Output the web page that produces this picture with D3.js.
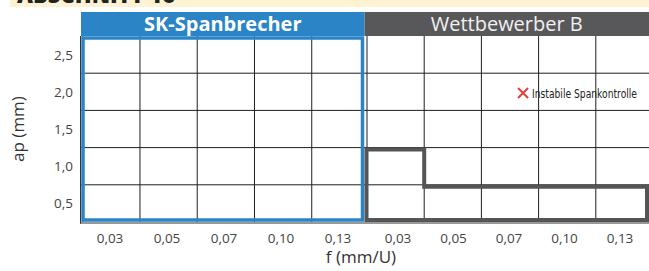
<!DOCTYPE html>
<html><head><meta charset="utf-8">
<script src="https://cdn.jsdelivr.net/npm/d3@7"></script>
<style>html,body{margin:0;padding:0;background:#fff;}svg{display:block;}</style>
</head><body>
<svg id="chart" width="649" height="271"></svg>
<script>
// ---- data ----
const fCategories = ["0,03", "0,05", "0,07", "0,10", "0,13"];
const apLevels = [0.5, 1.0, 1.5, 2.0, 2.5];
const apLabels = ["0,5", "1,0", "1,5", "2,0", "2,5"];
const panelNames = ["SK-Spanbrecher", "Wettbewerber B"];
const stableApSK = [2.5, 2.5, 2.5, 2.5, 2.5];
const stableApB = [1.0, 0.5, 0.5, 0.5, 0.5];
const legendLabel = "Instabile Spankontrolle";
const xTitle = "f (mm/U)";
const yTitle = "ap (mm)";
const bannerTitle = "ABSCHNITT 16";

// ---- layout ----
const W = 649, H = 271;
const plotTop = 36, plotBottom = 222;
const panels = [
  {name: panelNames[0], x0: 81, x1: 364.5, grid: [82.7, 369], labels: [110, 338], stable: stableApSK,
   fill: "#2b84c6", stroke: "#2b84c6", weight: 700, sw: 3.5},
  {name: panelNames[1], x0: 364.5, x1: 649, grid: [367, 653], labels: [398, 620], stable: stableApB,
   fill: "#58585a", stroke: "#555555", weight: 400, sw: 4}
];
const font = "'Open Sans', 'Noto Sans', sans-serif";
const svg = d3.select("#chart");

const y = d3.scaleBand().domain(apLevels).range([plotBottom, plotTop]);

// banner
svg.append("rect").attr("x", 10).attr("y", 0).attr("width", W - 10).attr("height", 7).attr("fill", "#fdf3d3");
svg.append("text").attr("x", 17).attr("y", 2.5).attr("font-family", font).attr("font-weight", 800)
  .attr("font-size", 22).attr("fill", "#222").text(bannerTitle);

// grid: horizontal lines
const gGrid = svg.append("g");
y.domain().forEach((d, i) => {
  if (i === apLevels.length - 1) return;
  const yy = y(d);
  gGrid.append("line").attr("x1", 81).attr("x2", W).attr("y1", yy).attr("y2", yy)
    .attr("stroke", "#1e1e1e").attr("stroke-width", 1);
});

panels.forEach(p => {
  p.x = d3.scaleBand().domain(fCategories).range(p.grid);
  p.lx = d3.scalePoint().domain(fCategories).range(p.labels);
  fCategories.slice(1).forEach(c => {
    const xx = p.x(c);
    gGrid.append("line").attr("x1", xx).attr("x2", xx).attr("y1", plotTop).attr("y2", plotBottom)
      .attr("stroke", "#1e1e1e").attr("stroke-width", 1);
  });
  const e = p.x(fCategories[0]);
  gGrid.append("line").attr("x1", e).attr("x2", e).attr("y1", plotTop).attr("y2", plotBottom)
    .attr("stroke", "#1e1e1e").attr("stroke-width", 1);
});

// axis frame
svg.append("line").attr("x1", 80.5).attr("x2", 80.5).attr("y1", plotTop).attr("y2", 223.5).attr("stroke", "#333").attr("stroke-width", 1);
svg.append("line").attr("x1", 80).attr("x2", W).attr("y1", 223).attr("y2", 223).attr("stroke", "#333").attr("stroke-width", 1);

// stable regions
const ins = 2;
panels.forEach(p => {
  const pts = [];
  const xl = p.x0 + ins, xr = p.x1 - ins, yb = plotBottom - ins;
  pts.push([xl, yb]);
  p.stable.forEach((ap, i) => {
    const yt = y(ap) + ins;
    const xa = i === 0 ? xl : p.x(fCategories[i]);
    const xb = i === p.stable.length - 1 ? xr : p.x(fCategories[i + 1]);
    pts.push([xa, yt]);
    pts.push([xb, yt]);
  });
  pts.push([xr, yb]);
  svg.append("path").attr("d", d3.line()(pts) + "Z").attr("fill", "none")
    .attr("stroke", p.stroke).attr("stroke-width", p.sw).attr("stroke-linejoin", "miter");
});

// headers
panels.forEach(p => {
  svg.append("rect").attr("x", p.x0).attr("y", 12).attr("width", p.x1 - p.x0).attr("height", plotTop - 12).attr("fill", p.fill);
  svg.append("text").attr("x", (p.x0 + p.x1) / 2).attr("y", 30.5).attr("text-anchor", "middle")
    .attr("font-family", font).attr("font-weight", p.weight).attr("font-size", 20)
    .attr("fill", p.weight === 700 ? "#fff" : "#f0f0f0").text(p.name);
});

// x tick labels
panels.forEach(p => {
  fCategories.forEach(c => {
    svg.append("text").attr("x", p.lx(c)).attr("y", 243).attr("text-anchor", "middle")
      .attr("font-family", font).attr("font-size", 13.5).attr("fill", "#444").text(c);
  });
});
// y tick labels
apLevels.forEach((d, i) => {
  svg.append("text").attr("x", 73).attr("y", y(d) + y.bandwidth() / 2 + 5).attr("text-anchor", "end")
    .attr("font-family", font).attr("font-size", 13.5).attr("fill", "#444").text(apLabels[i]);
});

// axis titles
svg.append("text").attr("x", 361).attr("y", 263).attr("text-anchor", "middle")
  .attr("font-family", font).attr("font-size", 17).attr("fill", "#333").text(xTitle);
svg.append("text").attr("transform", `translate(24,${(plotTop + plotBottom) / 2}) rotate(-90)`).attr("text-anchor", "middle")
  .attr("font-family", font).attr("font-size", 17).attr("fill", "#333").text(yTitle);

// legend
const lg = svg.append("g").attr("transform", "translate(523,93)");
lg.append("path").attr("d", "M-5,-5L5,5M-5,5L5,-5").attr("stroke", "#e5403a").attr("stroke-width", 2);
lg.append("text").attr("x", 9).attr("y", 4.5).attr("font-family", "'DejaVu Sans Condensed', 'Liberation Sans Narrow', sans-serif")
  .attr("font-stretch", "condensed")
  .attr("font-size", 12).attr("fill", "#222")
  .attr("textLength", 105).attr("lengthAdjust", "spacingAndGlyphs").text(legendLabel);
</script>
</body></html>
